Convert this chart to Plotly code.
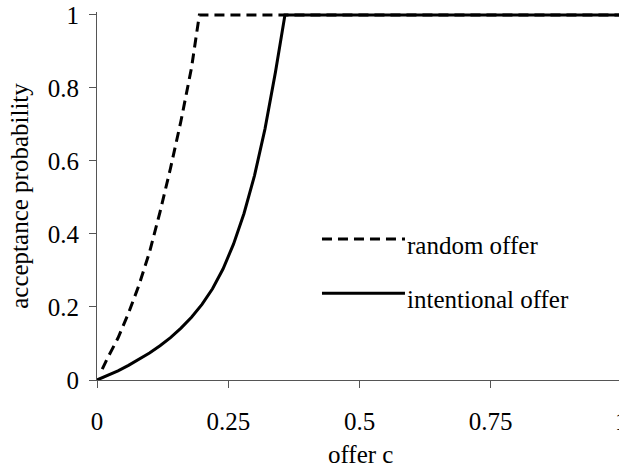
import plotly.graph_objects as go

# data
offer_random = [0.01, 0.02, 0.04, 0.06, 0.08, 0.10, 0.12, 0.14, 0.16, 0.18, 0.195, 1.0]
accept_random = [0.03, 0.06, 0.115, 0.183, 0.26, 0.35, 0.46, 0.58, 0.71, 0.855, 1.0, 1.0]

offer_intent = [0.0, 0.02, 0.04, 0.06, 0.08, 0.10, 0.12, 0.14, 0.16, 0.18, 0.20,
                0.22, 0.24, 0.26, 0.28, 0.30, 0.32, 0.34, 0.358, 1.0]
accept_intent = [0.0, 0.012, 0.025, 0.040, 0.056, 0.074, 0.094, 0.116, 0.142, 0.172, 0.207,
                 0.250, 0.304, 0.372, 0.456, 0.560, 0.688, 0.844, 1.0, 1.0]

series_names = ["random offer", "intentional offer"]
x_tickvals = [0, 0.25, 0.5, 0.75]
x_ticktext = ["0", "0.25", "0.5", "0.75"]
y_tickvals = [0, 0.2, 0.4, 0.6, 0.8, 1]
x_title = "offer c"
y_title = "acceptance probability"

FONT = "Liberation Serif"
FS = 25
DASH = "10px,6px"

fig = go.Figure()
fig.add_trace(go.Scatter(x=offer_intent, y=accept_intent, mode="lines",
                         name=series_names[1], line=dict(color="black", width=3),
                         showlegend=False))
fig.add_trace(go.Scatter(x=offer_random, y=accept_random, mode="lines",
                         name=series_names[0], line=dict(color="black", width=3, dash=DASH),
                         showlegend=False))

# legend drawn as layout shapes + annotations (long key lines as in the reference)
leg_x0, leg_x1, leg_tx = 0.431, 0.590, 0.590
leg_y = [0.383, 0.236]
leg_ty = [0.365, 0.218]
for i, name in enumerate(series_names):
    fig.add_shape(type="line", xref="paper", yref="paper",
                  x0=leg_x0, x1=leg_x1, y0=leg_y[i], y1=leg_y[i],
                  line=dict(color="black", width=3, dash=DASH if i == 0 else "solid"))
    fig.add_annotation(text=name, xref="paper", yref="paper", x=leg_tx, y=leg_ty[i],
                       xanchor="left", yanchor="middle", showarrow=False,
                       font=dict(family=FONT, size=FS, color="black"))

# the partially cut "1" tick label at the right edge
fig.add_annotation(text="1", xref="paper", yref="paper", x=1.0057, y=-0.114,
                   xanchor="center", yanchor="middle", showarrow=False,
                   font=dict(family=FONT, size=FS, color="black"))

# x axis title placed near the bottom edge as in the reference
fig.add_annotation(text=x_title, xref="paper", yref="paper", x=0.5057, y=-0.203,
                   xanchor="center", yanchor="middle", showarrow=False,
                   font=dict(family=FONT, size=FS, color="black"))

fig.update_layout(
    width=619, height=463,
    margin=dict(l=97, r=0, t=12, b=83),
    paper_bgcolor="white", plot_bgcolor="white",
    font=dict(family=FONT, size=FS, color="black"),
    showlegend=False,
    xaxis=dict(range=[0, 0.9943], tickvals=x_tickvals, ticktext=x_ticktext,
               showgrid=False, zeroline=False, showline=True, linecolor="#555",
               linewidth=1, ticks="outside", ticklen=7, tickcolor="#555",
               ticklabelstandoff=12, automargin=False),
    yaxis=dict(range=[0, 1.008], tickvals=y_tickvals, showgrid=False, zeroline=False,
               showline=True, linecolor="#555", linewidth=1, ticks="outside",
               ticklen=7, tickcolor="#555", ticklabelstandoff=5, automargin=False,
               title=dict(text=y_title, standoff=12,
                          font=dict(family=FONT, size=FS))),
)

fig.write_html("out.html", config={"displayModeBar": False},
               post_script="document.body.style.margin='0';")
